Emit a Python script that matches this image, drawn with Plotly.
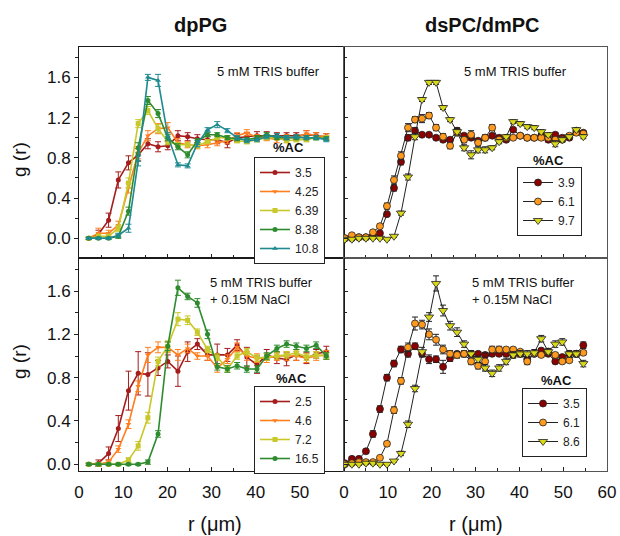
import plotly.graph_objects as go

# ---------------- DATA ----------------
R_PG = [2.2, 4.4, 6.7, 8.9, 11.2, 13.4, 15.6, 17.9, 20.1, 22.4, 24.6, 26.8, 29.1,
        31.3, 33.6, 35.8, 38.0, 40.3, 42.5, 44.8, 47.0, 49.2, 51.5, 53.7, 56.0]
R_PC = [0.2, 1.8, 3.4, 5.0, 6.6, 8.2, 9.8, 11.4, 13.0, 14.6, 16.2, 17.8, 19.4, 21.0,
        22.6, 24.2, 25.8, 27.4, 29.0, 30.6, 32.2, 33.8, 35.4, 37.0, 38.6, 40.2, 41.8,
        43.4, 45.0, 46.6, 48.2, 49.8, 51.4, 53.0, 54.6]

# dpPG, 5 mM TRIS buffer
pg_tris_labels = ["3.5", "4.25", "6.39", "8.38", "10.8"]
pg_tris_g = [
    [0.00, 0.04, 0.18, 0.58, 0.75, 0.83, 0.94, 0.91, 0.92, 1.02, 1.01, 0.99, 0.98, 0.98, 0.95, 1.00, 1.01, 1.02, 1.02, 1.02, 1.02, 1.02, 1.03, 1.02, 1.01],
    [0.00, 0.05, 0.05, 0.13, 0.50, 0.85, 1.02, 1.09, 1.10, 0.95, 0.93, 0.92, 0.93, 0.95, 0.97, 1.02, 1.05, 1.00, 1.00, 0.98, 1.00, 1.00, 1.04, 1.02, 1.01],
    [0.00, 0.02, 0.02, 0.10, 0.55, 1.14, 1.27, 1.09, 0.96, 0.93, 0.93, 0.92, 0.96, 1.00, 1.00, 0.97, 0.96, 0.98, 1.00, 1.00, 0.97, 0.98, 0.98, 1.00, 1.00],
    [0.00, 0.00, 0.00, 0.02, 0.27, 0.90, 1.37, 1.24, 1.00, 0.91, 0.83, 0.97, 1.03, 1.03, 1.00, 0.99, 0.98, 1.00, 1.03, 1.00, 1.00, 1.00, 1.00, 1.00, 0.99],
    [0.00, 0.00, 0.00, 0.03, 0.10, 0.77, 1.60, 1.57, 1.02, 0.73, 0.72, 0.94, 1.08, 1.13, 1.07, 1.00, 0.97, 0.98, 1.01, 1.02, 1.00, 1.01, 1.00, 1.00, 0.98],
]
pg_tris_err = [
    [0.01, 0.04, 0.07, 0.08, 0.07, 0.06, 0.05, 0.05, 0.04, 0.05, 0.04, 0.04, 0.03, 0.04, 0.05, 0.04, 0.04, 0.04, 0.04, 0.03, 0.03, 0.03, 0.04, 0.03, 0.03],
    [0.01, 0.05, 0.03, 0.04, 0.05, 0.06, 0.05, 0.05, 0.05, 0.04, 0.03, 0.03, 0.03, 0.03, 0.03, 0.03, 0.03, 0.03, 0.03, 0.03, 0.03, 0.03, 0.03, 0.03, 0.03],
    [0.01, 0.02, 0.02, 0.03, 0.05, 0.04, 0.04, 0.04, 0.03, 0.02, 0.02, 0.02, 0.02, 0.02, 0.02, 0.02, 0.02, 0.02, 0.02, 0.02, 0.02, 0.02, 0.02, 0.02, 0.02],
    [0.01, 0.01, 0.01, 0.02, 0.04, 0.05, 0.04, 0.04, 0.03, 0.03, 0.03, 0.02, 0.02, 0.02, 0.02, 0.02, 0.02, 0.02, 0.02, 0.02, 0.02, 0.02, 0.02, 0.02, 0.02],
    [0.01, 0.01, 0.01, 0.02, 0.04, 0.05, 0.03, 0.06, 0.03, 0.02, 0.02, 0.03, 0.02, 0.03, 0.02, 0.02, 0.02, 0.02, 0.02, 0.02, 0.02, 0.02, 0.02, 0.02, 0.02],
]

# dpPG, 5 mM TRIS buffer + 0.15M NaCl
pg_nacl_labels = ["2.5", "4.6", "7.2", "16.5"]
pg_nacl_g = [
    [0.00, 0.01, 0.10, 0.33, 0.68, 0.84, 0.83, 0.89, 0.95, 0.86, 1.04, 1.11, 1.01, 1.01, 1.01, 1.10, 0.99, 0.92, 1.01, 0.98, 0.97, 1.01, 0.98, 1.02, 1.04],
    [0.00, 0.00, 0.02, 0.14, 0.37, 0.72, 1.01, 1.08, 1.08, 1.01, 1.07, 1.00, 1.00, 0.89, 0.97, 1.08, 1.00, 0.98, 0.98, 1.00, 1.00, 1.00, 0.98, 1.00, 1.01],
    [0.00, 0.00, 0.00, 0.00, 0.04, 0.17, 0.43, 0.95, 1.09, 1.34, 1.33, 1.22, 1.06, 0.99, 0.88, 1.00, 1.04, 0.98, 0.99, 1.00, 1.01, 1.03, 0.99, 1.01, 1.00],
    [0.00, 0.00, 0.00, 0.00, 0.00, 0.00, 0.02, 0.28, 1.09, 1.63, 1.55, 1.49, 1.20, 0.90, 0.88, 0.91, 0.88, 0.88, 1.00, 1.07, 1.11, 1.09, 1.07, 1.10, 1.00],
]
pg_nacl_err = [
    [0.01, 0.03, 0.06, 0.12, 0.18, 0.20, 0.20, 0.07, 0.06, 0.14, 0.09, 0.05, 0.05, 0.10, 0.06, 0.05, 0.09, 0.08, 0.05, 0.05, 0.06, 0.05, 0.05, 0.04, 0.05],
    [0.01, 0.01, 0.02, 0.03, 0.04, 0.05, 0.07, 0.05, 0.05, 0.05, 0.04, 0.03, 0.04, 0.04, 0.04, 0.04, 0.04, 0.04, 0.04, 0.04, 0.04, 0.04, 0.04, 0.04, 0.04],
    [0.01, 0.01, 0.01, 0.01, 0.02, 0.04, 0.05, 0.04, 0.05, 0.06, 0.04, 0.03, 0.03, 0.03, 0.03, 0.03, 0.03, 0.03, 0.03, 0.03, 0.03, 0.03, 0.03, 0.03, 0.03],
    [0.01, 0.01, 0.01, 0.01, 0.01, 0.01, 0.02, 0.03, 0.04, 0.07, 0.03, 0.04, 0.04, 0.03, 0.03, 0.03, 0.03, 0.03, 0.03, 0.03, 0.03, 0.03, 0.03, 0.03, 0.03],
]

# dsPC/dmPC, 5 mM TRIS buffer
pc_tris_labels = ["3.9", "6.1", "9.7"]
pc_tris_g = [
    [0.00, 0.00, 0.01, 0.01, 0.02, 0.05, 0.24, 0.50, 0.76, 1.00, 1.07, 1.03, 1.03, 1.00, 0.98, 0.98, 1.07, 1.02, 1.00, 0.97, 1.00, 1.02, 1.00, 0.98, 1.08, 1.02, 1.00, 1.00, 1.02, 0.98, 1.03, 1.00, 1.00, 1.07, 1.05],
    [0.00, 0.03, 0.01, 0.01, 0.06, 0.12, 0.32, 0.58, 0.82, 1.10, 1.18, 1.19, 1.22, 1.10, 1.01, 0.92, 1.05, 0.98, 1.03, 0.95, 1.00, 1.10, 0.98, 1.00, 1.00, 1.02, 1.00, 1.00, 1.00, 1.00, 0.98, 0.98, 1.02, 1.05, 1.04],
    [-0.01, -0.01, 0.00, 0.00, 0.00, 0.00, -0.01, 0.02, 0.25, 0.61, 1.01, 1.38, 1.55, 1.55, 1.30, 1.18, 1.06, 0.90, 0.83, 0.88, 0.88, 0.90, 0.96, 1.01, 1.16, 1.14, 1.11, 1.10, 1.06, 1.03, 0.94, 0.98, 1.01, 1.08, 1.01],
]
pc_tris_err = [
    [0.01, 0.01, 0.01, 0.01, 0.01, 0.02, 0.02, 0.03, 0.03, 0.03, 0.03, 0.02, 0.02, 0.02, 0.02, 0.02, 0.03, 0.02, 0.02, 0.02, 0.02, 0.02, 0.02, 0.02, 0.02, 0.02, 0.02, 0.02, 0.02, 0.02, 0.02, 0.02, 0.02, 0.02, 0.02],
    [0.01, 0.01, 0.01, 0.01, 0.02, 0.02, 0.03, 0.04, 0.04, 0.04, 0.03, 0.04, 0.03, 0.03, 0.03, 0.03, 0.03, 0.03, 0.04, 0.03, 0.03, 0.03, 0.02, 0.02, 0.02, 0.02, 0.02, 0.02, 0.02, 0.02, 0.02, 0.02, 0.02, 0.02, 0.02],
    [0.01, 0.01, 0.01, 0.01, 0.01, 0.01, 0.01, 0.01, 0.02, 0.03, 0.03, 0.02, 0.02, 0.02, 0.02, 0.02, 0.03, 0.03, 0.04, 0.03, 0.03, 0.02, 0.02, 0.02, 0.02, 0.02, 0.02, 0.02, 0.02, 0.02, 0.03, 0.02, 0.02, 0.02, 0.02],
]

# dsPC/dmPC, 5 mM TRIS buffer + 0.15M NaCl
pc_nacl_labels = ["3.5", "6.1", "8.6"]
pc_nacl_g = [
    [0.01, 0.05, 0.05, 0.12, 0.28, 0.51, 0.80, 0.93, 1.06, 1.02, 1.09, 1.02, 0.97, 0.97, 0.90, 0.98, 1.02, 1.02, 1.02, 1.02, 1.01, 1.02, 1.02, 1.02, 1.01, 1.02, 0.97, 1.02, 1.05, 1.02, 0.95, 0.99, 1.02, 1.02, 1.10],
    [0.00, 0.01, 0.02, 0.02, 0.02, 0.06, 0.19, 0.50, 0.77, 1.08, 1.30, 1.29, 1.20, 1.15, 1.06, 1.02, 1.01, 1.02, 0.95, 0.91, 0.95, 1.06, 1.06, 1.06, 1.06, 1.04, 0.95, 1.02, 1.01, 1.04, 1.01, 0.95, 0.96, 1.02, 1.03],
    [0.00, 0.00, 0.00, 0.01, 0.01, 0.00, 0.00, 0.03, 0.10, 0.37, 0.70, 1.04, 1.36, 1.67, 1.42, 1.28, 1.22, 1.11, 1.02, 0.97, 0.89, 0.84, 0.89, 0.95, 1.01, 1.02, 1.02, 1.03, 1.16, 1.04, 1.11, 1.13, 1.02, 1.02, 0.93],
]
pc_nacl_err = [
    [0.01, 0.02, 0.02, 0.02, 0.03, 0.03, 0.03, 0.03, 0.03, 0.03, 0.03, 0.03, 0.04, 0.03, 0.06, 0.03, 0.02, 0.02, 0.02, 0.02, 0.02, 0.02, 0.02, 0.02, 0.02, 0.02, 0.03, 0.02, 0.02, 0.02, 0.02, 0.02, 0.02, 0.02, 0.03],
    [0.01, 0.01, 0.01, 0.01, 0.01, 0.01, 0.02, 0.03, 0.03, 0.04, 0.06, 0.04, 0.05, 0.05, 0.04, 0.03, 0.03, 0.03, 0.03, 0.03, 0.08, 0.03, 0.03, 0.02, 0.02, 0.02, 0.03, 0.02, 0.02, 0.02, 0.02, 0.02, 0.02, 0.02, 0.02],
    [0.01, 0.01, 0.01, 0.01, 0.01, 0.01, 0.01, 0.01, 0.02, 0.03, 0.03, 0.04, 0.04, 0.07, 0.05, 0.04, 0.04, 0.03, 0.03, 0.03, 0.03, 0.03, 0.03, 0.03, 0.03, 0.03, 0.03, 0.03, 0.03, 0.03, 0.03, 0.03, 0.03, 0.03, 0.03],
]

# ---------------- STYLE ----------------
FONT = "Liberation Sans, Arial, sans-serif"
pg_colors = ["#A51C1C", "#FF7F1E", "#C8C82A", "#2E8B2E", "#1F8A8F"]
pg_tris_symbols = ["circle", "triangle-down", "square", "circle", "triangle-up"]
pg_nacl_symbols = ["circle", "triangle-down", "square", "circle"]
pc_colors = ["#8B0000", "#FF9A1E", "#D9D91A"]
pc_symbols = ["circle", "circle", "triangle-down"]

fig = go.Figure()


def add_pg(labels, ys, errs, symbols, xa, ya, legend):
    for lab, y, e, c, s in zip(labels, ys, errs, pg_colors, symbols):
        fig.add_trace(go.Scatter(
            x=R_PG, y=y, name=lab, mode="lines+markers",
            line=dict(color=c, width=1.6),
            marker=dict(color=c, symbol=s, size=5),
            error_y=dict(type="data", array=e, color=c, thickness=1, width=3),
            xaxis=xa, yaxis=ya, legend=legend))


def add_pc(labels, ys, errs, xa, ya, legend):
    for lab, y, e, c, s in zip(labels, ys, errs, pc_colors, pc_symbols):
        fig.add_trace(go.Scatter(
            x=R_PC, y=y, name=lab, mode="lines+markers",
            line=dict(color="#222222", width=1),
            marker=dict(color=c, symbol=s, size=7 if s == "circle" else 8,
                        line=dict(color="#222222", width=0.8)),
            error_y=dict(type="data", array=e, color="#222222", thickness=1, width=3),
            xaxis=xa, yaxis=ya, legend=legend))


add_pg(pg_tris_labels, pg_tris_g, pg_tris_err, pg_tris_symbols, "x", "y", "legend")
add_pc(pc_tris_labels, pc_tris_g, pc_tris_err, "x2", "y2", "legend2")
add_pg(pg_nacl_labels, pg_nacl_g, pg_nacl_err, pg_nacl_symbols, "x3", "y3", "legend3")
add_pc(pc_nacl_labels, pc_nacl_g, pc_nacl_err, "x4", "y4", "legend4")

W, H = 620, 536


def px(x):
    return x / W


def py(y):
    return 1 - y / H


XL = [px(79), px(344)]
XR = [px(344), px(607)]
YT = [py(258), py(47)]
YB = [py(471), py(258)]

TICKFONT = dict(family=FONT, size=17, color="#111111")
axis_common = dict(showline=True, linewidth=1, mirror=True,
                   showgrid=False, zeroline=False, automargin=False, tickfont=TICKFONT)
xcommon = dict(axis_common, range=[0, 60], ticks="inside", ticklen=4, tickcolor="#222222",
               ticklabelstandoff=6,
               minor=dict(dtick=5, ticks="inside", ticklen=3, tickcolor="#222222"))
MINOR_Y = [0.2, 0.6, 1.0, 1.4, 1.8]
ycommon = dict(axis_common, tickvals=[0, 0.4, 0.8, 1.2, 1.6],
               ticktext=["0.0", "0.4", "0.8", "1.2", "1.6"],
               ticklen=4, tickcolor="#222222")
LC_L = "#1a1a1a"
LC_R = "#555555"

legend_common = dict(bgcolor="white", bordercolor="#222222", borderwidth=1,
                     font=dict(family=FONT, size=12, color="#222222"),
                     xanchor="left", yanchor="top", tracegroupgap=0, itemwidth=30)

fig.update_layout(
    width=W, height=H, margin=dict(l=0, r=0, t=0, b=0, autoexpand=False),
    paper_bgcolor="white", plot_bgcolor="white",
    xaxis=dict(xcommon, domain=XL, anchor="y", linecolor=LC_L, showticklabels=False,
               tickvals=[0, 10, 20, 30, 40, 50]),
    yaxis=dict(ycommon, domain=YT, anchor="x", linecolor=LC_L, range=[-0.196, 1.902], ticks="outside",
               minor=dict(tickvals=MINOR_Y, ticks="outside", ticklen=3, tickcolor="#222222")),
    xaxis2=dict(xcommon, domain=XR, anchor="y2", linecolor=LC_R, showticklabels=False,
                tickvals=[0, 10, 20, 30, 40, 50, 60]),
    yaxis2=dict(ycommon, domain=YT, anchor="x2", linecolor=LC_R, range=[-0.196, 1.902], ticks="inside",
                showticklabels=False,
                minor=dict(tickvals=MINOR_Y, ticks="inside", ticklen=3, tickcolor="#222222")),
    xaxis3=dict(xcommon, domain=XL, anchor="y3", linecolor=LC_L, tickvals=[0, 10, 20, 30, 40, 50]),
    yaxis3=dict(ycommon, domain=YB, anchor="x3", linecolor=LC_L, range=[-0.062, 1.905], ticks="outside",
                minor=dict(tickvals=MINOR_Y, ticks="outside", ticklen=3, tickcolor="#222222")),
    xaxis4=dict(xcommon, domain=XR, anchor="y4", linecolor=LC_R, tickvals=[0, 10, 20, 30, 40, 50, 60]),
    yaxis4=dict(ycommon, domain=YB, anchor="x4", linecolor=LC_R, range=[-0.062, 1.905], ticks="inside",
                showticklabels=False,
                minor=dict(tickvals=MINOR_Y, ticks="inside", ticklen=3, tickcolor="#222222")),
    legend=dict(legend_common, x=px(254), y=py(157)),
    legend2=dict(legend_common, x=px(517), y=py(167)),
    legend3=dict(legend_common, x=px(254), y=py(386)),
    legend4=dict(legend_common, x=px(522), y=py(388)),
    showlegend=True,
)

annots = [
    dict(text="<b>dpPG</b>", x=px(200), y=py(25), size=20),
    dict(text="<b>dsPC/dmPC</b>", x=px(482), y=py(25), size=20),
    dict(text="r (\u03bcm)", x=px(215), y=py(524), size=20),
    dict(text="r (\u03bcm)", x=px(476), y=py(524), size=20),
    dict(text="5 mM TRIS buffer", x=px(268), y=py(72), size=13),
    dict(text="5 mM TRIS buffer", x=px(515), y=py(72), size=13),
    dict(text="<b>%AC</b>", x=px(288), y=py(147), size=13),
    dict(text="<b>%AC</b>", x=px(548), y=py(160), size=13),
    dict(text="<b>%AC</b>", x=px(291), y=py(378), size=13),
    dict(text="<b>%AC</b>", x=px(556), y=py(380), size=13),
]
for a in annots:
    fig.add_annotation(text=a["text"], x=a["x"], y=a["y"], xref="paper", yref="paper",
                       showarrow=False, xanchor="center", yanchor="middle",
                       font=dict(family=FONT, size=a["size"], color="#111111"))

for txt, x in [("5 mM TRIS buffer<br>+ 0.15M NaCl", 208), ("5 mM TRIS buffer<br>+ 0.15M NaCl", 470)]:
    fig.add_annotation(text=txt, x=px(x), y=py(291), xref="paper", yref="paper",
                       showarrow=False, xanchor="left", yanchor="middle", align="left",
                       font=dict(family=FONT, size=13, color="#111111"))

for yc in [160, 362]:
    fig.add_annotation(text="g (r)", x=px(19), y=py(yc), xref="paper", yref="paper",
                       showarrow=False, textangle=-90, xanchor="center", yanchor="middle",
                       font=dict(family=FONT, size=19, color="#111111"))

fig.write_html("out.html", config={"displayModeBar": False},
               post_script="document.body.style.margin='0';document.body.style.overflow='hidden';")
